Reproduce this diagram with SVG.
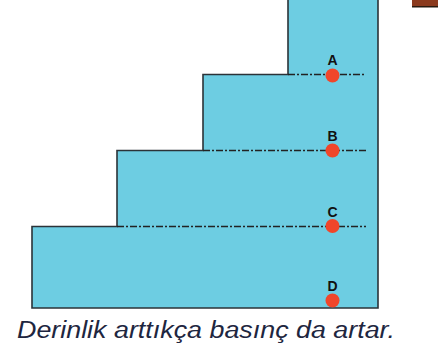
<svg xmlns="http://www.w3.org/2000/svg" width="438" height="348" viewBox="0 0 438 348">
<style>
.lbl{font-family:"Liberation Sans",Arial,sans-serif;font-weight:bold;font-size:14px;fill:#111;text-anchor:middle}
.dash{stroke:#222;stroke-width:1.3;stroke-dasharray:7 2 2 2;fill:none}
.dot{fill:#f0462a}
</style>
<rect width="438" height="348" fill="#fff"/>
<g id="corner"><rect x="412" y="0" width="26" height="6" fill="#8b3a1e"/><rect x="412" y="6" width="26" height="1.5" fill="#2a1a10"/></g>
<g id="vessel">
<path d="M288,-1 V74.5 H203 V150.5 H117 V226.5 H32 V308 H378 V-1 Z" fill="#6dcde2" stroke="#2b3338" stroke-width="1.6"/>
</g>
<g id="connectors">
<line class="dash" x1="288" y1="74.5" x2="365" y2="74.5"/>
<line class="dash" x1="203" y1="150.5" x2="367" y2="150.5"/>
<line class="dash" x1="117" y1="226.5" x2="366" y2="226.5"/>
</g>
<g id="A"><circle class="dot" cx="332.5" cy="75.5" r="7"/><text class="lbl" x="332.5" y="64.5">A</text></g>
<g id="B"><circle class="dot" cx="332.5" cy="150.5" r="7"/><text class="lbl" x="332.5" y="140.5">B</text></g>
<g id="C"><circle class="dot" cx="332.5" cy="226" r="7"/><text class="lbl" x="332.5" y="216.5">C</text></g>
<g id="D"><circle class="dot" cx="332.5" cy="300.5" r="7"/><text class="lbl" x="332.5" y="290.5">D</text></g>
<text x="17" y="338" font-family="Liberation Sans,Arial,sans-serif" font-style="italic" font-size="23.5" fill="#1e2640" textLength="378" lengthAdjust="spacingAndGlyphs">Derinlik arttıkça basınç da artar.</text>
</svg>
